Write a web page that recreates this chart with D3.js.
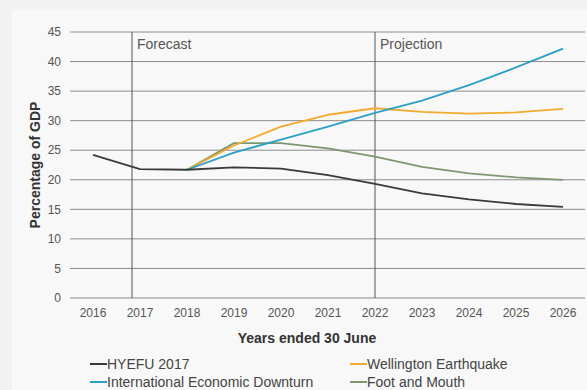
<!DOCTYPE html>
<html><head><meta charset="utf-8">
<script src="https://cdn.jsdelivr.net/npm/d3@7"></script>
<style>body{margin:0;background:#f2f2f2;font-family:"Liberation Sans",Arial,sans-serif}</style>
</head><body><svg id="c" width="587" height="390"></svg>
<script>
const years = [2016,2017,2018,2019,2020,2021,2022,2023,2024,2025,2026];
const hyefu = [24.2,21.8,21.7,22.1,21.9,20.8,19.3,17.7,16.7,15.9,15.4];
const downturn = [null,null,21.7,24.6,26.8,29.0,31.3,33.4,36.0,39.0,42.2];
const earthquake = [null,null,21.7,25.8,29.0,31.0,32.1,31.5,31.2,31.4,32.0];
const footMouth = [null,null,21.7,26.2,26.2,25.3,23.9,22.2,21.1,20.4,20.0];
const yTicks = [0,5,10,15,20,25,30,35,40,45];
const seriesNames = ["HYEFU 2017","International Economic Downturn","Wellington Earthquake","Foot and Mouth"];
const colors = ["#3a3a3a","#2b9fc6","#f3aa2e","#7d9870"];
const markers = [{x:2016.83,label:"Forecast"},{x:2022,label:"Projection"}];

const svg = d3.select("#c");
svg.append("rect").attr("x",12).attr("y",10).attr("width",575).attr("height",380).attr("fill","#f8f8f8");
const x = d3.scaleLinear().domain([2016,2026]).range([93,563]);
const y = d3.scaleLinear().domain([0,45]).range([298,32]);
const gx0 = 70, gx1 = 585;

svg.append("g").selectAll("line").data(yTicks).join("line")
  .attr("x1",gx0).attr("x2",gx1).attr("y1",d=>y(d)).attr("y2",d=>y(d))
  .attr("stroke","#8c8c8c").attr("stroke-width",1);
svg.append("g").selectAll("text").data(yTicks).join("text")
  .attr("x",61).attr("y",d=>y(d)).attr("dy","0.35em").attr("text-anchor","end")
  .attr("font-size",12).attr("fill","#555").text(d=>d);
svg.append("g").selectAll("text").data(years).join("text")
  .attr("x",d=>x(d)).attr("y",313).attr("dy","0.35em").attr("text-anchor","middle")
  .attr("font-size",12).attr("fill","#555").text(d=>d);
markers.forEach(m=>{
  svg.append("line").attr("x1",x(m.x)).attr("x2",x(m.x)).attr("y1",y(45)).attr("y2",y(0))
    .attr("stroke","#555").attr("stroke-width",1);
  svg.append("text").attr("x",x(m.x)+5).attr("y",44).attr("dy","0.35em")
    .attr("font-size",14).attr("fill","#555").text(m.label);
});
const all = [hyefu,downturn,earthquake,footMouth];
const line = d3.line().defined(d=>d[1]!=null).x(d=>x(d[0])).y(d=>y(d[1])).curve(d3.curveLinear);
[footMouth,earthquake,downturn,hyefu].forEach(s=>{
  const i = all.indexOf(s);
  svg.append("path").datum(years.map((yr,k)=>[yr,s[k]]))
    .attr("d",line).attr("fill","none").attr("stroke",colors[i]).attr("stroke-width",1.8)
    .attr("stroke-linejoin","round");
});
svg.append("text").attr("x",307).attr("y",338).attr("dy","0.35em").attr("text-anchor","middle")
  .attr("font-size",14).attr("font-weight","bold").attr("fill","#333").text("Years ended 30 June");
svg.append("text").attr("transform","translate(35,165) rotate(-90)").attr("dy","0.35em").attr("text-anchor","middle")
  .attr("font-size",14).attr("font-weight","bold").attr("fill","#333").text("Percentage of GDP");
const leg = [{x:90,y:364},{x:90,y:382},{x:350,y:364},{x:350,y:382}];
seriesNames.forEach((n,i)=>{
  const g = svg.append("g").attr("transform",`translate(${leg[i].x},${leg[i].y})`);
  g.append("line").attr("x1",0).attr("x2",17).attr("y1",0).attr("y2",0).attr("stroke",colors[i]).attr("stroke-width",2);
  g.append("text").attr("x",17).attr("y",0).attr("dy","0.35em").attr("font-size",14).attr("fill","#444").text(n);
});
</script></body></html>
